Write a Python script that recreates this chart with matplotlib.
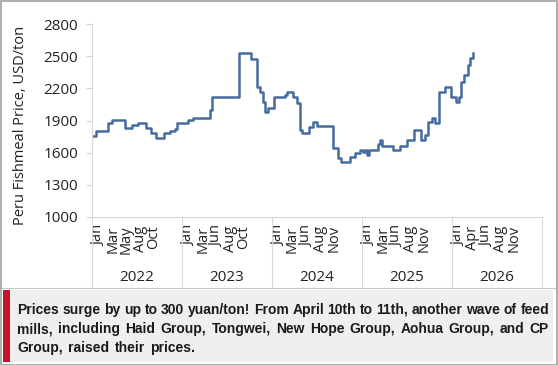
import numpy as np
import pandas as pd
import matplotlib.pyplot as plt
import matplotlib.transforms as mtransforms
from matplotlib.patches import Rectangle
from matplotlib.lines import Line2D

# step points of the price series (date the level starts, USD/ton)
dates = ['2022-01-01', '2022-01-17', '2022-03-08', '2022-03-25', '2022-05-16',
         '2022-06-14', '2022-07-05', '2022-08-10', '2022-08-27', '2022-09-16',
         '2022-10-22', '2022-11-12', '2022-12-03', '2022-12-10', '2023-01-25',
         '2023-02-15', '2023-04-23', '2023-05-01', '2023-08-19', '2023-10-07',
         '2023-11-01', '2023-11-13', '2023-11-25', '2023-12-02', '2023-12-15',
         '2024-01-09', '2024-02-23', '2024-03-01', '2024-03-25', '2024-04-10',
         '2024-04-23', '2024-05-01', '2024-05-29', '2024-06-15', '2024-07-01',
         '2024-09-05', '2024-09-25', '2024-10-07', '2024-11-13', '2024-12-03',
         '2024-12-23', '2025-01-05', '2025-01-13', '2025-01-21', '2025-01-29',
         '2025-03-05', '2025-03-13', '2025-03-21', '2025-05-05', '2025-06-03',
         '2025-07-01', '2025-07-29', '2025-08-27', '2025-09-13', '2025-09-25',
         '2025-10-10', '2025-10-23', '2025-11-09', '2025-12-03', '2025-12-27',
         '2026-01-17', '2026-01-29', '2026-02-07', '2026-02-19', '2026-03-05',
         '2026-03-13', '2026-03-29']
prices = [1755, 1800, 1877, 1905, 1830,
          1858, 1877, 1830, 1783, 1737,
          1783, 1800, 1820, 1877, 1905,
          1925, 2000, 2120, 2530, 2474,
          2213, 2166, 2073, 1980, 2017,
          2120, 2138, 2166, 2120, 2063,
          1811, 1783, 1839, 1886, 1849,
          1644, 1550, 1513, 1560, 1597,
          1625, 1606, 1625, 1578, 1625,
          1680, 1718, 1662, 1625, 1662,
          1718, 1811, 1718, 1765, 1886,
          1923, 1877, 2166, 2213, 2120,
          2073, 2120, 2260, 2324, 2420,
          2483, 2530]

years = [2022, 2023, 2024, 2025, 2026]
month_ticks = {
    2022: ['Jan', 'Mar', 'May', 'Aug', 'Oct'],
    2023: ['Jan', 'Mar', 'Jun', 'Aug', 'Oct'],
    2024: ['Jan', 'Mar', 'Jun', 'Aug', 'Nov'],
    2025: ['Jan', 'Mar', 'Jun', 'Aug', 'Nov'],
    2026: ['Jan', 'Apr', 'Jun', 'Aug', 'Nov'],
}
y_ticks = [1000, 1300, 1600, 1900, 2200, 2500, 2800]
note_lines = [
    "Prices surge by up to 300 yuan/ton! From April 10th to 11th, another wave of feed",
    "mills, including Haid Group, Tongwei, New Hope Group, Aohua Group, and CP",
    "Group, raised their prices.",
]

W, H = 558, 365
fig = plt.figure(figsize=(W / 100, H / 100), dpi=100)
ax = fig.add_axes([92 / W, 1 - 217 / H, 450 / W, 193 / H])
txt = '#222222'
sans = ['Open Sans', 'DejaVu Sans']

x = pd.to_datetime(dates)
ax.plot(x, prices, color='#466c9f', lw=1.8, drawstyle='steps-post')

ax.set_xlim(pd.Timestamp('2022-01-01'), pd.Timestamp('2027-01-01'))
ax.set_ylim(1000, 2800)
ax.set_yticks(y_ticks)
ax.set_yticklabels([str(v) for v in y_ticks], family=sans, fontsize=11, color=txt)
ax.tick_params(axis='y', length=4, color='#d0d0d0', pad=6)

# month labels: the category axis spreads them evenly from the start of each year
label_days = [28, 84, 140, 196, 252]
tick_pos, tick_lab = [], []
for yr in years:
    for d, m in zip(label_days, month_ticks[yr]):
        tick_pos.append(pd.Timestamp(f'{yr}-01-01') + pd.Timedelta(days=d))
        tick_lab.append(m)
ax.set_xticks(tick_pos)
ax.set_xticklabels(tick_lab, rotation=90, family=sans, fontsize=10.5, color=txt)
ax.tick_params(axis='x', length=0, pad=6)

for s in ['top', 'right']:
    ax.spines[s].set_visible(False)
ax.spines['left'].set_color('#d9d9d9')
ax.spines['bottom'].set_color('#d9d9d9')

# year labels and separators below the axis
trans = mtransforms.blended_transform_factory(ax.transData, ax.transAxes)
for yr in years:
    ax.text(pd.Timestamp(f'{yr}-07-02'), -0.315, str(yr), transform=trans,
            ha='center', va='center', family=sans, fontsize=11, color=txt)
for yr in years + [2027]:
    ax.plot([pd.Timestamp(f'{yr}-01-01')] * 2, [0, -0.365], transform=trans,
            color='#d9d9d9', lw=0.8, clip_on=False)

fig.text(21 / W, 1 - 125 / H, 'Peru Fishmeal Price, USD/ton', rotation=90,
         ha='center', va='center', family=sans, fontsize=10.5, color=txt)

# chart bottom edge, note box, outer frame
fig.lines.append(Line2D([2 / W, (W - 2) / W], [1 - 288 / H] * 2, transform=fig.transFigure,
                        color='#c8c8c8', lw=0.8))
fig.patches.append(Rectangle((3 / W, 3 / H), 550 / W, 72 / H, transform=fig.transFigure,
                             facecolor='#efefef', edgecolor='none', zorder=0))
fig.patches.append(Rectangle((3 / W, 3 / H), 6.5 / W, 72 / H, transform=fig.transFigure,
                             facecolor='#c4122f', edgecolor='none', zorder=1))
fig.patches.append(Rectangle((0.5 / W, 0.5 / H), (W - 2) / W, (H - 1.5) / H,
                             transform=fig.transFigure, fill=False,
                             edgecolor='#a0a0a0', lw=1.2, zorder=2))

# justified note text
line_y = [310, 329, 348]
left_px, right_px = 17, 549
fig.canvas.draw()
renderer = fig.canvas.get_renderer()
font = dict(fontsize=10, fontweight='bold', family='Liberation Sans', color='#1a1a1a')
space_w = fig.text(0, 0, ' ', **font).get_window_extent(renderer).width
for i, (ln, yy) in enumerate(zip(note_lines, line_y)):
    words = ln.split(' ')
    arts = [fig.text(0, 1 - yy / H, w, va='center', ha='left', **font) for w in words]
    widths = [a.get_window_extent(renderer).width for a in arts]
    if i < len(note_lines) - 1:
        gap = (right_px - left_px - sum(widths)) / (len(words) - 1)
    else:
        gap = space_w * 1.4
    xx = left_px
    for a, w in zip(arts, widths):
        a.set_x(xx / W)
        xx += w + gap

fig.savefig('out.png', dpi=100)
